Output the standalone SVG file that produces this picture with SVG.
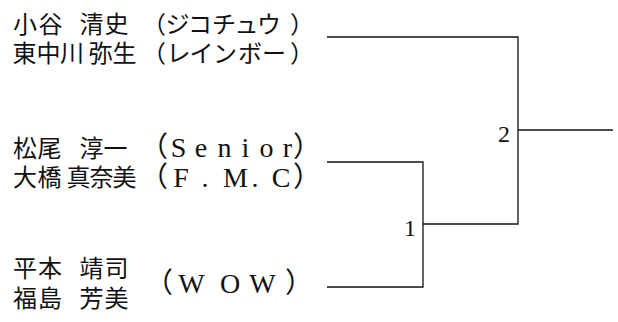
<svg xmlns="http://www.w3.org/2000/svg" width="618" height="322" viewBox="0 0 618 322">
<style>
.jp{font-family:"Liberation Serif","Noto Sans CJK JP",serif;font-size:24px;fill:#111;text-anchor:middle}
.lt{font-family:"Liberation Serif","Noto Sans CJK JP",serif;font-size:28px;fill:#111;text-anchor:middle}
.num{font-family:"Liberation Serif",serif;font-size:24px;fill:#111;text-anchor:end}
.ln{fill:none;stroke:#111;stroke-width:1.3}
</style>
<rect width="618" height="322" fill="#fff"/>
<g id="team-jikochuu">
<text class="jp" y="33" x="25 50.5 70 91.5 116.5">小谷 清史</text>
<text class="jp" y="62" x="24.5 48.5 72 87 100.5 124.5">東中川 弥生</text>
<text class="jp" y="33" x="154 177.5 200 224 246.5 269 302">（ジコチュウ）</text>
<text class="jp" y="62" x="154 178.5 201.5 225 250 274 302">（レインボー）</text>
</g>
<g id="team-senior">
<text class="jp" y="157" x="25 49.5 70 91.5 115.5">松尾 淳一</text>
<text class="jp" y="186" x="25 49.5 64 78.5 101.5 124.5">大橋 真奈美</text>
<text class="lt" y="157" x="154 178.5 201 224.5 245.5 266.5 287.5 307">（Senior）</text>
<text class="lt" y="187" x="154 181 205 215 235.5 255 265 281 307">（F. M. C）</text>
</g>
<g id="team-wow">
<text class="jp" y="277" x="25 50 70 91.5 116.5">平本 靖司</text>
<text class="jp" y="307" x="25 50 70 91.5 116.5">福島 芳美</text>
<text class="lt" y="293" x="159 191.5 230 262.5 299">（WOW）</text>
</g>
<g id="match-1"><text class="num" x="416" y="236">1</text></g>
<g id="match-2"><text class="num" x="510" y="142">2</text></g>
<g id="connectors">
<path class="ln" d="M327,37 H518 V224 H423"/>
<path class="ln" d="M327,162 H423 V287 H327"/>
<path class="ln" d="M518,130 H613"/>
</g>
</svg>
